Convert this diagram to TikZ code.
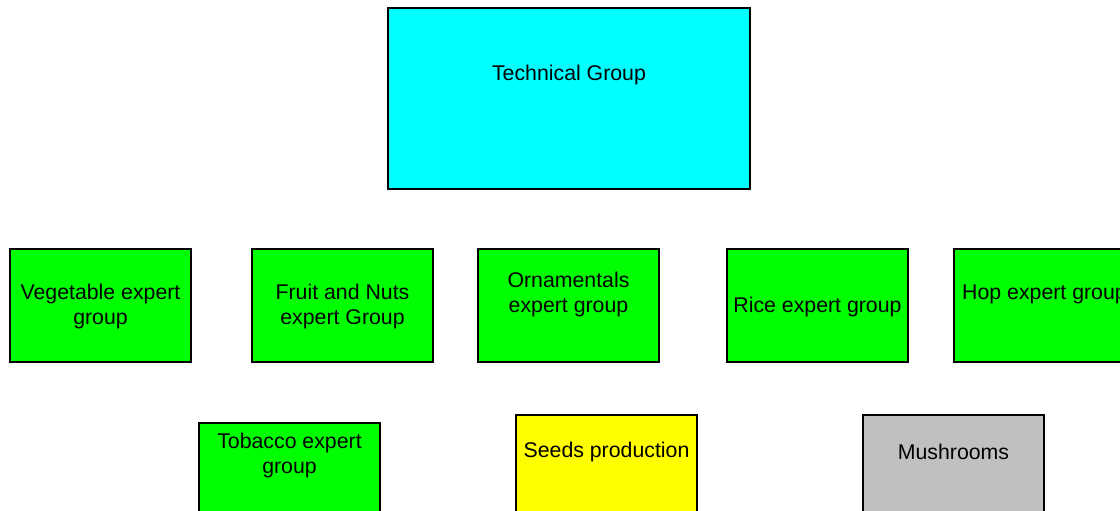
\documentclass[tikz,border=0pt]{standalone}
\usepackage{fontspec}
\setmainfont{Liberation Sans}
\usetikzlibrary{positioning}

\definecolor{techcyan}{RGB}{0,255,255}
\definecolor{expgreen}{RGB}{0,255,0}
\definecolor{seedyellow}{RGB}{255,255,0}
\definecolor{mushgray}{RGB}{192,192,192}

\begin{document}
\begin{tikzpicture}[
        x=1pt, y=-1pt,
        box/.style={rectangle, draw, line width=1.3pt, minimum width=181pt, minimum height=113pt, inner sep=0pt},
        txt/.style={align=center, inner sep=0pt, font=\fontsize{21.3}{25}\selectfont}
    ]
        \useasboundingbox (0,0) rectangle (1120,511);
        \clip (0,0) rectangle (1120,511);

        \node[box, fill=techcyan, minimum width=362pt, minimum height=181pt] (tech) at (569,98.5) {};
        \node[box, fill=expgreen] (veg) at (100.5,305.5) {};
        \node[box, fill=expgreen] (fruit) at (342.5,305.5) {};
        \node[box, fill=expgreen] (orn) at (568.5,305.5) {};
        \node[box, fill=expgreen] (rice) at (817.5,305.5) {};
        \node[box, fill=expgreen] (hop) at (1044.5,305.5) {};
        \node[box, fill=expgreen] (tobacco) at (289.5,479.5) {};
        \node[box, fill=seedyellow] (seeds) at (606.5,471.5) {};
        \node[box, fill=mushgray] (mush) at (953.5,471.5) {};

        % labels
        \node[txt] (tech-t) at ([yshift=24]tech.center) {Technical Group};
        \node[txt] (veg-t) at ([yshift=-1]veg.center) {Vegetable expert\\group};
        \node[txt] (fruit-t) at ([yshift=-1]fruit.center) {Fruit and Nuts\\expert Group};
        \node[txt] (orn-t) at ([yshift=11]orn.center) {Ornamentals\\expert group};
        \node[txt] (rice-t) at ([yshift=-1]rice.center) {Rice expert group};
        \node[txt] (hop-t) at ([yshift=11]hop.center) {Hop expert group};
        \node[txt] (tobacco-t) at ([yshift=-33]tobacco.north) {Tobacco expert\\group};
        \node[txt] (seeds-t) at ([yshift=-38]seeds.north) {Seeds production};
        \node[txt] (mush-t) at ([yshift=-38]mush.north) {Mushrooms};

    \end{tikzpicture}
\end{document}
